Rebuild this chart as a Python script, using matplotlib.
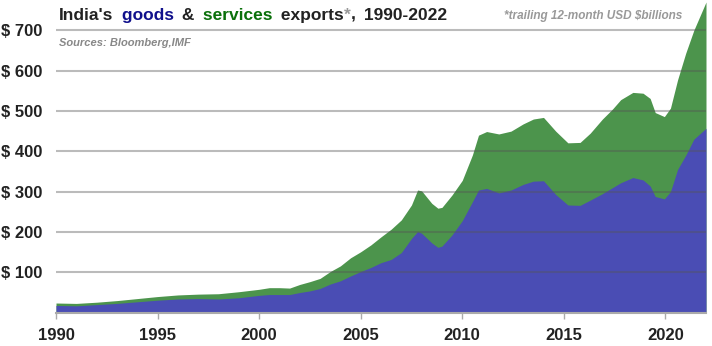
import matplotlib.pyplot as plt
import numpy as np

plt.rcParams['font.family'] = ['Liberation Sans', 'DejaVu Sans']

# trailing 12-month exports, USD billions
years = [1990.0, 1991.0, 1992.0, 1993.0, 1994.0, 1995.0, 1996.0, 1997.0, 1998.0, 1999.0,
         2000.0, 2000.5, 2001.0, 2001.5, 2002.0, 2002.5, 2003.0, 2003.5, 2004.0, 2004.5,
         2005.0, 2005.5, 2006.0, 2006.5, 2007.0, 2007.5, 2007.8, 2008.0, 2008.5, 2008.8,
         2009.0, 2009.5, 2010.0, 2010.5, 2010.8, 2011.2, 2011.8, 2012.4, 2013.0, 2013.5,
         2014.0, 2014.6, 2015.2, 2015.8, 2016.3, 2016.9, 2017.4, 2017.8, 2018.4, 2018.9,
         2019.25, 2019.5, 2019.95, 2020.25, 2020.6, 2021.0, 2021.4, 2022.0]
goods = [18, 17, 20, 23, 27, 31, 34, 35, 34, 37,
         43, 45, 45, 45, 50, 54, 60, 71, 79, 91,
         102, 112, 124, 132, 149, 184, 201, 197, 173, 162,
         165, 193, 228, 275, 304, 308, 297, 304, 318, 326,
         327, 293, 267, 266, 279, 295, 310, 322, 335, 329,
         314, 288, 282, 300, 355, 390, 430, 457]
total = [24, 23, 26, 30, 35, 40, 44, 46, 47, 52,
         58, 62, 62, 61, 70, 77, 85, 102, 116, 136,
         151, 168, 188, 207, 230, 267, 304, 302, 271, 259,
         261, 292, 328, 391, 440, 449, 443, 450, 468, 480,
         484, 450, 421, 422, 445, 480, 505, 528, 546, 544,
         531, 496, 486, 507, 577, 643, 700, 770]

xticks = [1990, 1995, 2000, 2005, 2010, 2015, 2020]
yticks = [100, 200, 300, 400, 500, 600, 700]

blue = '#4a4db4'
green = '#4c944c'

fig = plt.figure(figsize=(7.12, 3.46), dpi=100)
ax = fig.add_axes([56/712, 33.3/346, 650/712, 1 - 33.3/346])

ax.fill_between(years, 0, total, color=green, lw=0, zorder=1)
ax.fill_between(years, 0, goods, color=blue, lw=0, zorder=2)

for v in yticks:
    ax.axhline(v, color='#555555', alpha=0.4, lw=1.5, zorder=3)

ax.set_xlim(1990, 2022)
ax.set_ylim(0, 775)
ax.set_xticks(xticks)
ax.set_yticks(yticks)
ax.set_yticklabels(['$ %d' % v for v in yticks])
for s in ['top', 'right', 'left']:
    ax.spines[s].set_visible(False)
ax.spines['bottom'].set_color('#aaaaaa')
ax.spines['bottom'].set_linewidth(1.5)
ax.tick_params(axis='x', length=4, color='#aaaaaa', width=1, pad=7,
               labelsize=12, labelcolor='#222222')
ax.tick_params(axis='y', length=0, pad=10, labelsize=12, labelcolor='#222222')
for lab in ax.get_xticklabels() + ax.get_yticklabels():
    lab.set_fontweight('bold')

# multi-coloured title, pieces chained one after another
t = fig.text(59/712, 1 - 20/346, "India's", fontsize=12.5, fontweight='bold',
             color='#222222', va='baseline')
parts = [(' goods', '#10108c', 2.5), (' &', '#222222', 2.5),
         (' services', '#0a700a', 2.5), (' exports', '#222222', 2.5),
         ('*', '#999999', 0), (',', '#222222', 0),
         (' 1990-2022', '#222222', 2.5)]
for txt, col, gap in parts:
    t = ax.annotate(txt, xy=(1, 0), xycoords=t, xytext=(gap, 0),
                    textcoords='offset points', fontsize=12.5,
                    fontweight='bold', color=col, va='bottom', ha='left',
                    annotation_clip=False)

fig.text(59/712, 1 - 46/346, 'Sources: Bloomberg,IMF', fontsize=8,
         fontweight='bold', style='italic', color='#888888')
fig.text(682/712, 1 - 19/346, '*trailing 12-month USD $billions', fontsize=8.5,
         fontweight='bold', style='italic', color='#999999', ha='right')

fig.savefig('out.png', dpi=100)
